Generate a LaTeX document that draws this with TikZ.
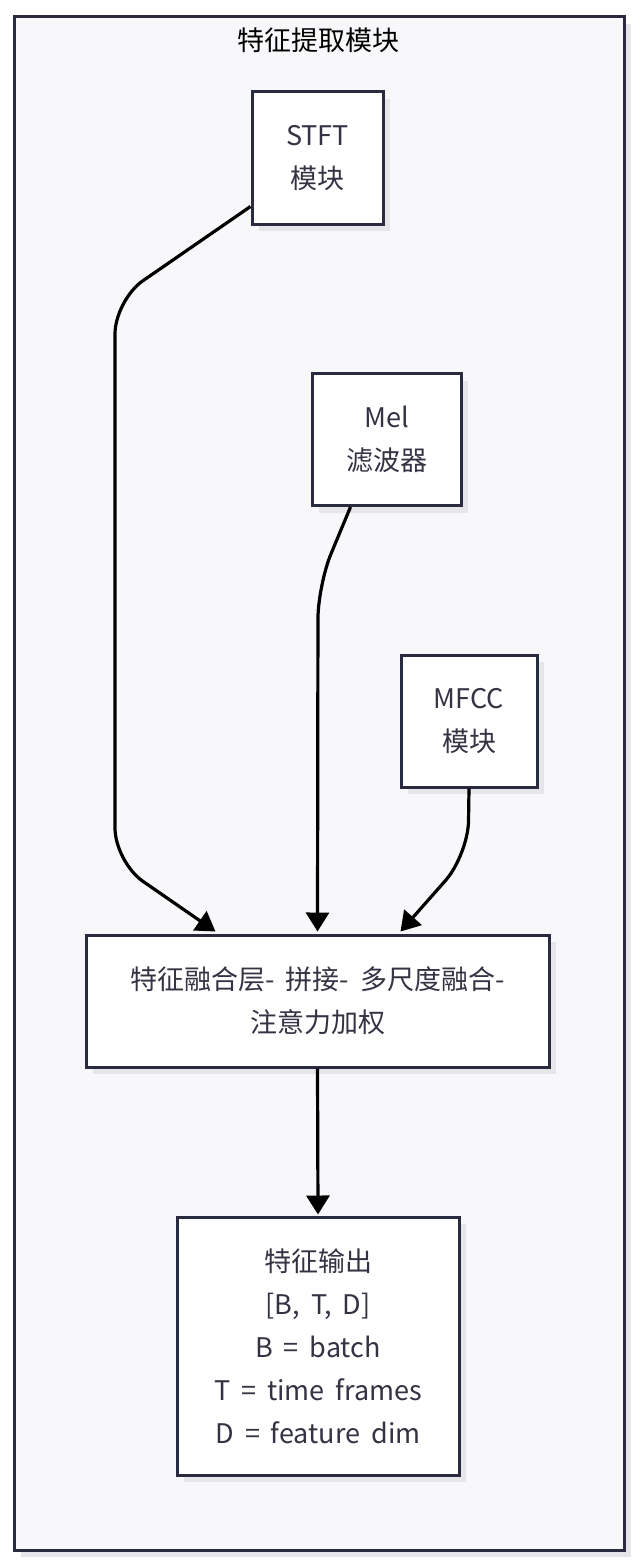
\documentclass[tikz,border=0pt]{standalone}
\usepackage{fontspec}
\setmainfont{Noto Sans CJK SC}[WordSpace=1.8]
\usetikzlibrary{arrows.meta,shadows}
\definecolor{frameFill}{HTML}{F8F8FA}
\definecolor{lineDark}{HTML}{2B2B40}
\definecolor{textDark}{HTML}{333344}
\definecolor{shadowGray}{HTML}{E6E6EA}
\begin{document}
\begin{tikzpicture}
[x=1pt,y=-1pt,%
  darkArrow/.style={-{Triangle[length=19pt,width=23pt]},line width=3.2pt,black,rounded corners=34pt},%
  boxDecorate/.style={shape=rectangle,draw=lineDark,line width=3pt,fill=white,text=textDark,
    align=center,inner sep=0pt,node font=\fontsize{27}{43}\selectfont,
    drop shadow={shadow xshift=7pt,shadow yshift=-7pt,fill=shadowGray,opacity=1}},%
  frameDecorate/.style={shape=rectangle,draw=lineDark,line width=3pt,fill=frameFill,
    drop shadow={shadow xshift=7pt,shadow yshift=-7pt,fill=shadowGray,opacity=1}}]
\useasboundingbox (0,0) rectangle (636,1568);
%% outer frame
\node (frame) at (319,783.5) [frameDecorate,minimum width=610pt,minimum height=1533pt] {};
\node (title) at (318,40) [text=black,node font=\fontsize{27}{43}\selectfont] {特征提取模块};
%% input boxes
\foreach \nodename/\x/\y/\w/\nodetext in {stft/317.5/158/131/{STFT\\模块},
  mel/386.5/439.5/149/{Mel\\滤波器}, mfcc/469/721/136/{MFCC\\模块}}
{
  \node (\nodename) at (\x,\y) [boxDecorate,minimum width=\w pt,minimum height=132pt] {\nodetext};
}
%% fusion and output
\node (fusion) at (317.5,1001) [boxDecorate,minimum width=463pt,minimum height=132pt]
  {特征融合层- 拼接- 多尺度融合-\\注意力加权};
\node (output) at (318,1346) [boxDecorate,minimum width=282pt,minimum height=258pt]
  {特征输出\\[0pt][B, T, D]\\B = batch\\T = time frames\\D = feature dim};
%% edges
\draw[darkArrow] ([yshift=19pt]stft.south west) -- (115,300) -- (115,862) -- ([xshift=131pt,yshift=2pt]fusion.north west);
\draw[darkArrow] ([xshift=40pt]mel.south west) -- (318,585) -- ([yshift=2pt]fusion.north);
\draw[darkArrow] (mfcc.south) -- (468,855) -- ([xshift=316pt,yshift=2pt]fusion.north west);
\draw[darkArrow] (fusion.south) -- ([yshift=1pt]output.north);
\end{tikzpicture}
\end{document}
